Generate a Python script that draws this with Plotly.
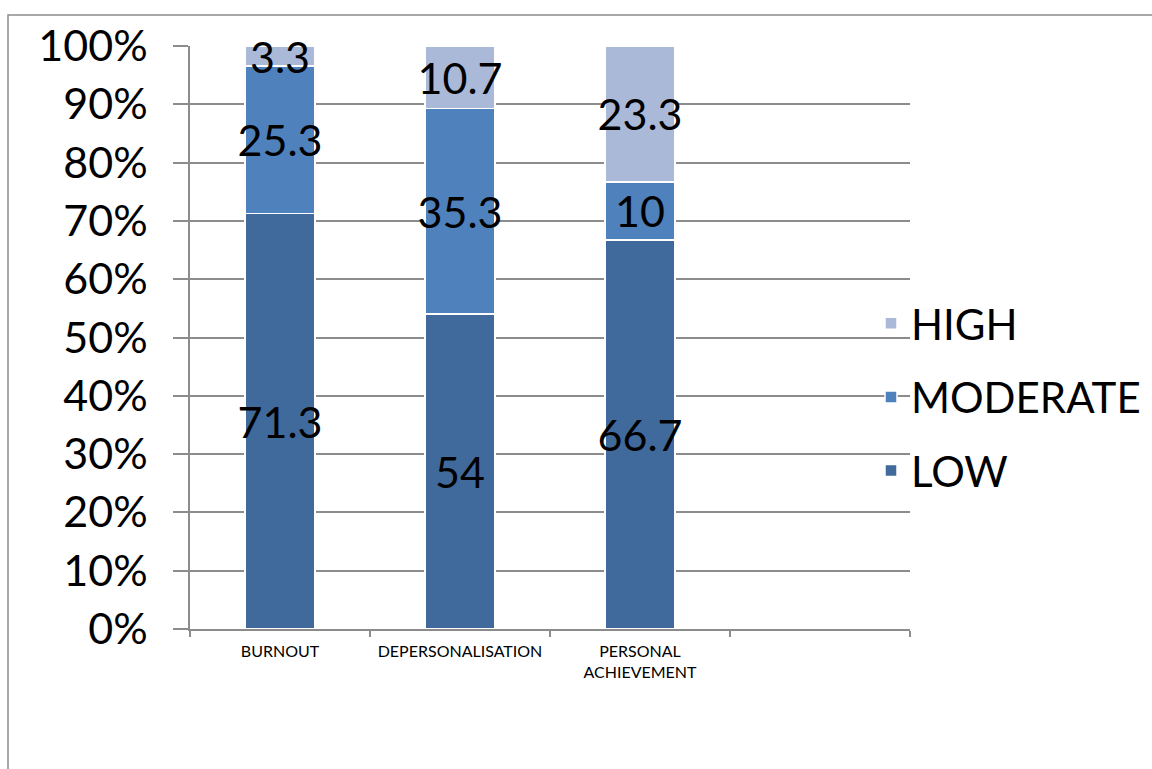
import plotly.graph_objects as go

categories = ["BURNOUT", "DEPERSONALISATION", "PERSONAL<br>ACHIEVEMENT", " "]
low = [71.3, 54, 66.7, None]
moderate = [25.3, 35.3, 10, None]
high = [3.3, 10.7, 23.3, None]
y_ticks = [0, 10, 20, 30, 40, 50, 60, 70, 80, 90, 100]

colors = {"LOW": "#416A9C", "MODERATE": "#4F81BD", "HIGH": "#AAB9D8"}
ranks = {"HIGH": 1, "MODERATE": 2, "LOW": 3}
FONT = "Lato"

fig = go.Figure()
for name, vals in [("LOW", low), ("MODERATE", moderate), ("HIGH", high)]:
    fig.add_trace(go.Bar(
        name=name, x=categories, y=vals,
        text=[("" if v is None else f"{v:g}") for v in vals],
        textposition="inside", insidetextanchor="middle", textangle=0,
        textfont=dict(family=FONT, size=43, color="black"),
        marker=dict(color=colors[name], line=dict(color="white", width=1.5)),
        legendgroup=name, legendrank=ranks[name], hoverinfo="skip",
        cliponaxis=False,
    ))

W, H = 1152, 769
L, R, T, B = 190, 242, 46, 140
pw, ph = W - L - R, H - T - B

fig.update_layout(
    width=W, height=H, barmode="stack", bargap=0.61,
    margin=dict(l=L, r=R, t=T, b=B, pad=0, autoexpand=False),
    paper_bgcolor="white", plot_bgcolor="white",
    uniformtext=dict(mode="show", minsize=43),
    font=dict(family=FONT, color="black"),
    showlegend=True,
    legend=dict(
        x=(871 - L) / pw, y=(H - B - 397) / ph, xanchor="left", yanchor="middle",
        font=dict(family=FONT, size=42, color="black"),
        traceorder="grouped", tracegroupgap=16,
        bgcolor="rgba(0,0,0,0)",
    ),
    xaxis=dict(
        categoryorder="array", categoryarray=categories, range=[-0.5, 3.5],
        showline=True, linecolor="#8C8C8C", linewidth=1.5,
        ticks="outside", tickson="boundaries", ticklen=6, tickcolor="#8C8C8C", tickwidth=1.5,
        ticklabelstandoff=7,
        tickfont=dict(family=FONT, size=16, color="black"),
        showgrid=False, zeroline=False,
    ),
    yaxis=dict(
        range=[0, 100], tickvals=y_ticks, ticktext=[f"{v}%" for v in y_ticks],
        showline=True, linecolor="#8C8C8C", linewidth=1.5,
        ticks="outside", ticklen=15, tickcolor="#8C8C8C", tickwidth=1.5,
        ticklabelstandoff=17,
        tickfont=dict(family=FONT, size=43, color="black"),
        showgrid=True, gridcolor="#8C8C8C", gridwidth=1.5, zeroline=False,
    ),
)

# outer chart frame
fig.add_shape(type="rect", xref="paper", yref="paper",
              x0=(8 - L) / pw, x1=(W + 20 - L) / pw,
              y0=(H - B - (H + 20)) / ph, y1=(H - B - 15) / ph,
              line=dict(color="#8C8C8C", width=1.5), fillcolor="rgba(0,0,0,0)", layer="below")

fig.write_html("out.html")
